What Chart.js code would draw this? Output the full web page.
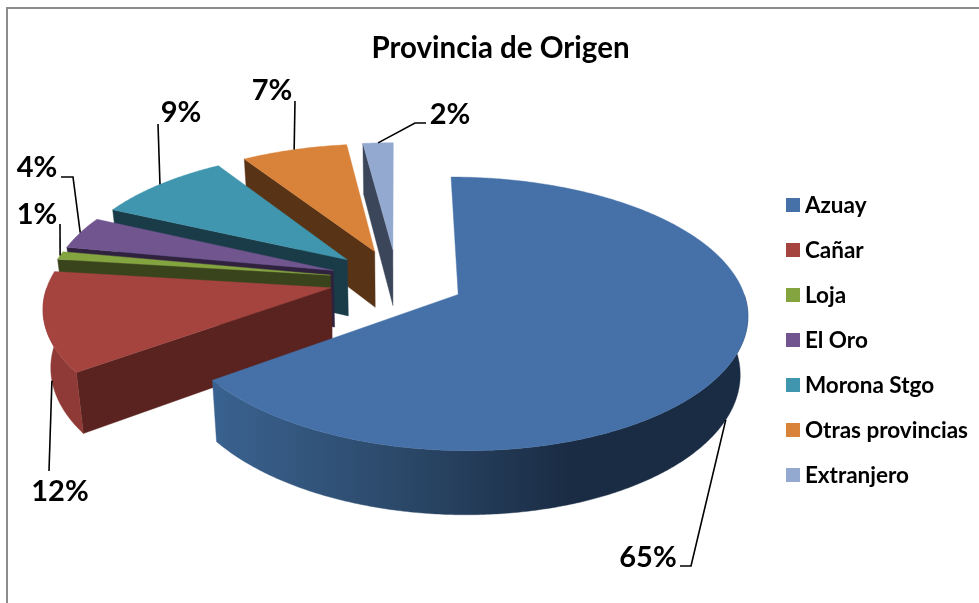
<!DOCTYPE html>
<html><head><meta charset="utf-8">
<style>html,body{margin:0;padding:0;background:#fff}#w{width:979px;height:603px;position:relative}</style>
<script src="https://cdn.jsdelivr.net/npm/chart.js@4"></script></head>
<body><div id="w"><canvas id="c" width="979" height="603"></canvas></div>
<script>
const titleText = 'Provincia de Origen';
const categories = ['Azuay','Cañar','Loja','El Oro','Morona Stgo','Otras provincias','Extranjero'];
const shares = [65,12,1,4,9,7,2];
const topColors = ['#4571A8','#A5433F','#84A440','#70558F','#3F96AE','#D9823A','#93A9CF'];
const wallColors = ['#1A2D45','#5A2320','#3A441C','#30213F','#1A3C49','#583316','#3C465A'];
const rimColors = [['#3A6290','#2C4A6B','#1A2C44','#1A2C44'],['#8F3A36'],['#6A8534'],['#5A4473'],['#33788C'],['#AE682E'],['#7688A6']];
const FONT = 'Lato, Carlito, sans-serif';

const view = {cx:397, cy:280, bx:282, ay:130, kx:0.13, ky:0.14, kd:0.1, explode:0.24, depth:57, taper:0.978};
const callouts = [
  {z:1, via:[[691,566],[680,566]], text:[648,558]},
  {z:1, via:[[49,471]], text:[60,492]},
  {z:0, via:[[60,224]], text:[37,215]},
  {z:0, via:[[73,177],[61,177]], text:[37,168]},
  {z:0, via:[[158,124]], text:[181,113]},
  {z:0, via:[[295,101]], text:[272,91]},
  {z:0, via:[[415,123],[426,123]], text:[450,115]}
];

function project(u,v,z){
  const sx = view.bx*u/(1 - view.kx*v);
  return [view.cx + sx*(z?view.taper:1), view.cy + view.ay*v/(1 - view.ky*v) + z*view.depth/(1 - view.kd*v)];
}
function sliceOutline(arc){
  const mid=(arc.startAngle+arc.endAngle)/2;
  const ox=Math.cos(mid)*view.explode, oy=Math.sin(mid)*view.explode;
  const n=Math.max(3,Math.ceil((arc.endAngle-arc.startAngle)/0.01));
  const pts=[];
  for(let i=0;i<=n;i++){
    const a=arc.startAngle+(arc.endAngle-arc.startAngle)*i/n;
    pts.push({u:ox+Math.cos(a),v:oy+Math.sin(a),front:Math.sin(a)>=0});
  }
  return {apex:[ox,oy],pts,mid};
}
function poly(ctx,list,fill){
  ctx.beginPath();
  list.forEach((p,i)=>i?ctx.lineTo(p[0],p[1]):ctx.moveTo(p[0],p[1]));
  ctx.closePath();
  ctx.fillStyle=fill;ctx.strokeStyle=fill;ctx.lineWidth=0.4;
  ctx.fill();ctx.stroke();
}
function rimBand(ctx,pts,fill){
  if(pts.length<2) return;
  const t=pts.map(p=>project(p.u,p.v,0)), b=pts.map(p=>project(p.u,p.v,1));
  poly(ctx,t.concat(b.reverse()),fill);
}
const pie3d = {
  id:'pie3d',
  beforeDraw(chart){
    const c=chart.ctx;
    c.save();c.strokeStyle='#8C8C8C';c.lineWidth=2;
    c.beginPath();c.moveTo(979,8);c.lineTo(7,8);c.lineTo(7,603);c.stroke();c.restore();
  },
  beforeDatasetDraw(chart,args){
    const ctx=chart.ctx, meta=args.meta;
    ctx.save();
    for(let i=meta.data.length-1;i>=0;i--){
      const arc=meta.data[i];
      const o=sliceOutline(arc);
      const a0=project(o.apex[0],o.apex[1],0), a1=project(o.apex[0],o.apex[1],1);
      const first=o.pts[0], last=o.pts[o.pts.length-1];
      const topRim=o.pts.map(p=>project(p.u,p.v,0));
      const rim=rimColors[i];
      let fill=rim[0];
      if(rim.length>1){
        const xs=topRim.map(p=>p[0]);
        const g=ctx.createLinearGradient(Math.min(...xs),0,Math.max(...xs),0);
        rim.forEach((col,j)=>g.addColorStop(j/(rim.length-1),col));
        fill=g;
      }
      // radial walls and the rim are drawn only where they face the viewer
      if(-Math.cos(arc.startAngle)>1e-6) poly(ctx,[a0,project(first.u,first.v,0),project(first.u,first.v,1),a1],wallColors[i]);
      if(Math.cos(arc.endAngle)>1e-6) poly(ctx,[a0,project(last.u,last.v,0),project(last.u,last.v,1),a1],wallColors[i]);
      rimBand(ctx,o.pts.filter(p=>p.front),fill);
      poly(ctx,[a0].concat(topRim),arc.options.backgroundColor);
    }
    ctx.strokeStyle='#000';ctx.lineWidth=1.6;ctx.fillStyle='#000';
    ctx.font='bold 29px '+FONT;ctx.textAlign='center';ctx.textBaseline='middle';
    meta.data.forEach((arc,i)=>{
      const o=sliceOutline(arc), c=callouts[i];
      const m=[o.apex[0]+Math.cos(o.mid),o.apex[1]+Math.sin(o.mid)];
      const s=project(m[0],m[1],c.z);
      ctx.beginPath();ctx.moveTo(s[0],s[1]);
      c.via.forEach(p=>ctx.lineTo(p[0],p[1]));
      ctx.stroke();
      ctx.fillText(shares[i]+'%',c.text[0],c.text[1]);
    });
    ctx.restore();
    return false;
  }
};
function swatch(col){
  const s=document.createElement('canvas');s.width=14;s.height=14;
  const g=s.getContext('2d');g.fillStyle=col;g.fillRect(0,0,14,14);return s;
}
new Chart(document.getElementById('c'),{
  type:'pie',
  data:{labels:categories,datasets:[{data:shares,backgroundColor:topColors,borderWidth:0}]},
  plugins:[pie3d],
  options:{
    responsive:false,animation:false,
    layout:{padding:{left:23,right:1,top:31,bottom:94}},
    plugins:{
      tooltip:{enabled:false},
      title:{display:true,text:titleText,color:'#000',font:{family:FONT,size:29.5,weight:'bold'},padding:{top:0,bottom:0}},
      legend:{position:'right',align:'end',labels:{
        usePointStyle:true,pointStyleWidth:2,boxHeight:14,padding:22.5,color:'#000',
        font:{family:FONT,size:22.5,weight:'bold'},
        generateLabels(chart){
          return Chart.overrides.pie.plugins.legend.labels.generateLabels(chart).map((it,i)=>{it.pointStyle=swatch(topColors[i]);return it;});
        }
      }}
    }
  }
});
</script></body></html>
